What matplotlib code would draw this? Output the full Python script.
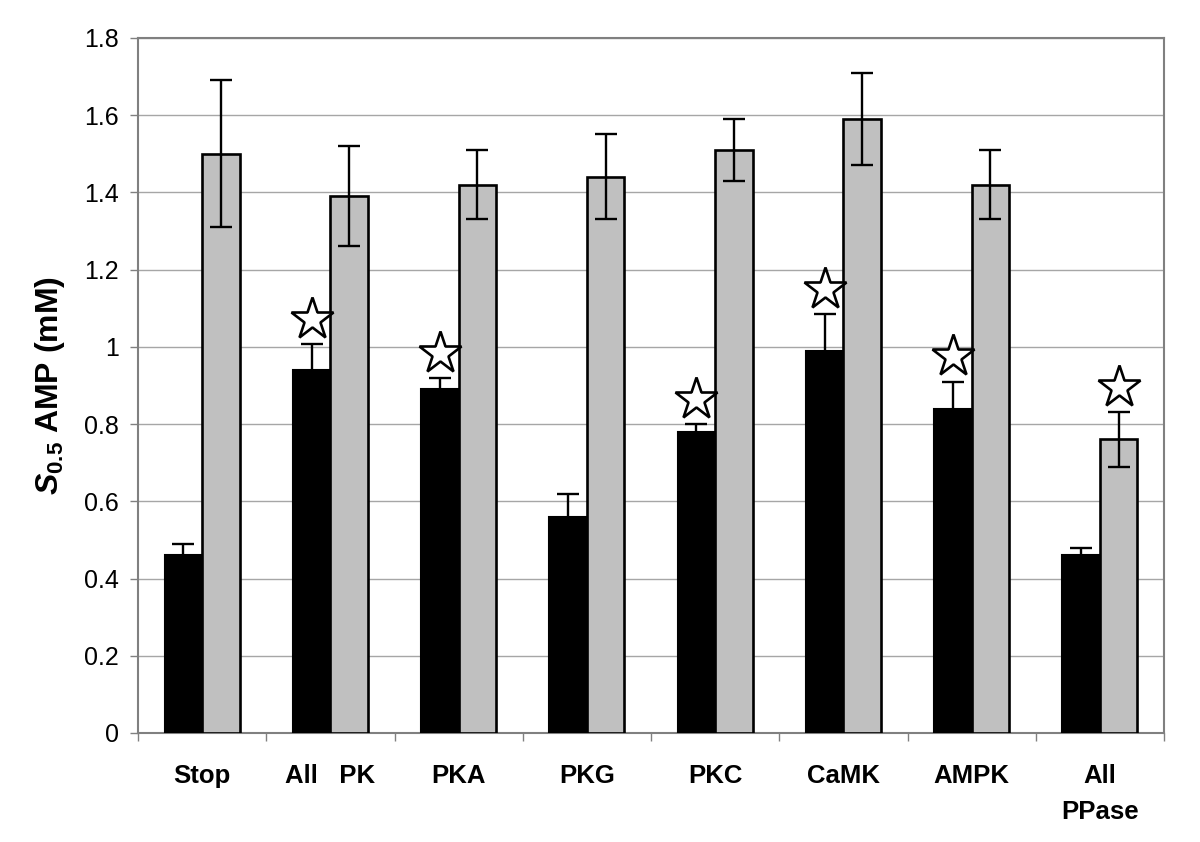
import matplotlib
matplotlib.use("Agg")
import matplotlib.pyplot as plt
import numpy as np

categories = ["Stop", "All   PK", "PKA", "PKG", "PKC", "CaMK", "AMPK", "All\nPPase"]
black_vals = [0.46, 0.94, 0.89, 0.56, 0.78, 0.99, 0.84, 0.46]
black_err = [0.03, 0.067, 0.03, 0.06, 0.02, 0.095, 0.07, 0.02]
gray_vals = [1.50, 1.39, 1.42, 1.44, 1.51, 1.59, 1.42, 0.76]
gray_err = [0.19, 0.13, 0.09, 0.11, 0.08, 0.12, 0.09, 0.07]
# significance star: 'b' = over black bar, 'g' = over gray bar, '' = none
stars = ["", "b", "b", "", "b", "b", "b", "g"]
yticks = [0, 0.2, 0.4, 0.6, 0.8, 1.0, 1.2, 1.4, 1.6, 1.8]

plt.rcParams['font.family'] = ['Liberation Sans', 'DejaVu Sans']
plt.rcParams['mathtext.fontset'] = 'custom'
plt.rcParams['mathtext.it'] = 'Liberation Sans:bold:italic'
plt.rcParams['mathtext.rm'] = 'Liberation Sans:bold'
plt.rcParams['mathtext.bf'] = 'Liberation Sans:bold'

fig = plt.figure(figsize=(12, 8.42), dpi=100)
ax = fig.add_axes([0.115, 0.1295, 0.855, 0.8255])

x = np.arange(len(categories))
w = 0.292
ekw = dict(elinewidth=1.7, capthick=1.7, ecolor='black')
ax.bar(x - w / 2, black_vals, w, color='black', edgecolor='black', linewidth=1.5, zorder=3)
ax.bar(x + w / 2, gray_vals, w, color='#c0c0c0', edgecolor='black', linewidth=1.9, zorder=3)
ax.errorbar(x - w / 2, black_vals, yerr=black_err, fmt='none', capsize=8, zorder=4, **ekw)
ax.errorbar(x + w / 2, gray_vals, yerr=gray_err, fmt='none', capsize=8, zorder=4, **ekw)

off = 0.065
for i, s in enumerate(stars):
    if s == 'b':
        xs, ys = x[i] - w / 2, black_vals[i] + black_err[i] + off
    elif s == 'g':
        xs, ys = x[i] + w / 2, gray_vals[i] + gray_err[i] + off
    else:
        continue
    ax.plot([xs], [ys], marker='*', markersize=32, markerfacecolor='white',
            markeredgecolor='black', markeredgewidth=1.9, zorder=5)

ax.set_xlim(-0.5, len(categories) - 0.5)
ax.set_ylim(0, 1.8)
ax.set_yticks(yticks)
ax.set_yticklabels([f"{v:g}" for v in yticks], fontsize=18)
ax.yaxis.grid(True, color='#a6a6a6', linewidth=1.0, zorder=0)
ax.set_axisbelow(True)

ax.set_xticks(x)
ax.set_xticklabels(categories, fontsize=18.5, fontweight='bold', linespacing=1.65)
ax.tick_params(axis='x', length=0, pad=22)
ax.set_xticks(np.arange(-0.5, len(categories), 1.0), minor=True)
ax.tick_params(axis='x', which='minor', length=6, width=1.0, color='#808080')
ax.tick_params(axis='y', length=6, width=1.0, color='#808080', pad=8)

for sp in ax.spines.values():
    sp.set_color('#808080')
    sp.set_linewidth(1.5)

ax.set_ylabel(r'$\mathit{S_{0.5}}$ AMP (mM)', fontsize=23, fontweight='bold', labelpad=12)

fig.savefig("out.png", dpi=100)
